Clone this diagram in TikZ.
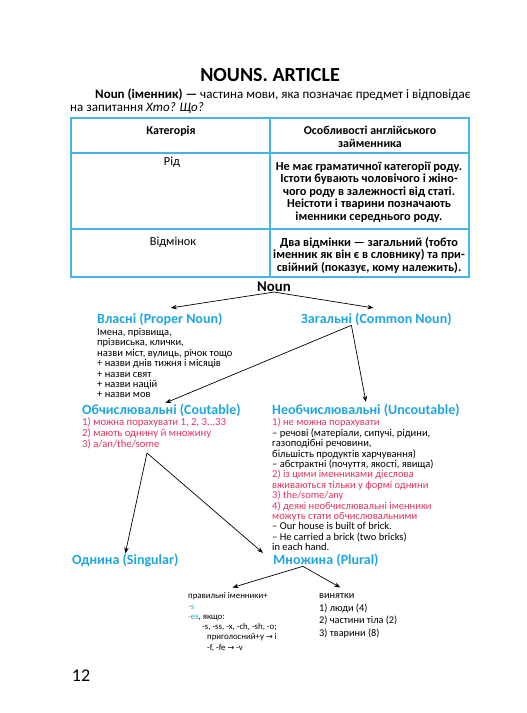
\documentclass[tikz,border=0pt]{standalone}
\usepackage{fontspec}
\setmainfont{Carlito}
\newfontfamily\symfont{DejaVu Sans}
\usetikzlibrary{arrows.meta,positioning}

\definecolor{nblue}{HTML}{1FA6E0}
\definecolor{nred}{HTML}{E4335F}
\definecolor{tline}{HTML}{45B5E5}

\begin{document}
\begin{tikzpicture}[x=1pt,y=-1pt,
  head/.style = {inner sep=0pt, anchor=base west, text=nblue, font=\fontsize{14}{16}\selectfont\bfseries},
  body/.style = {inner sep=0pt, anchor=north west, align=left, font=\fontsize{10.5}{10.4}\selectfont},
  cell/.style = {inner sep=0pt, align=center, font=\fontsize{12.3}{12.8}\selectfont},
  arr/.style = {-{Stealth[length=6pt,width=4.5pt]}, line width=0.7pt}]
\fill[white] (0,0) rectangle (527,713);
\useasboundingbox (0,0) rectangle (527,713);

\node[inner sep=0pt] (title) at (270,75) {\fontsize{20}{22}\selectfont\bfseries NOUNS. ARTICLE};
\node[inner sep=0pt, anchor=base west] (def1) at (95,98) {\fontsize{13}{15}\selectfont\textbf{Noun (іменник) —} частина мови, яка позначає предмет і відповідає};
\node[inner sep=0pt, anchor=base west] (def2) at (70,111) {\fontsize{13}{15}\selectfont на запитання \textit{Хто? Що?}};

% table
\draw[tline, line width=1.3pt] (71,118) rectangle (469,277);
\draw[tline, line width=1.3pt] (270,118) -- (270,277) (71,153) -- (469,153) (71,229) -- (469,229);
\node[cell, font=\fontsize{12}{12.8}\selectfont\bfseries] (cat) at (171,131) {Категорія};
\node[cell, font=\fontsize{12}{12.8}\selectfont\bfseries] (feat) at (370,137) {Особливості англійського\\займенника};
\node[cell] (gender) at (172,162) {Рід};
\node[cell, font=\fontsize{12.3}{12.6}\selectfont\bfseries] (gendertxt) at (369,192) {Не має граматичної категорії роду.\\Істоти бувають чоловічого і жіно-\\чого роду в залежності від статі.\\Неістоти і тварини позначають\\іменники середнього роду.};
\node[cell] (case) at (173,242) {Відмінок};
\node[cell, font=\fontsize{12.3}{12.6}\selectfont\bfseries] (casetxt) at (369,255) {Два відмінки — загальний (тобто\\іменник як він є в словнику) та при-\\свійний (показує, кому належить).};

% tree
\node[inner sep=0pt] (noun) at (274,287) {\fontsize{14.8}{16}\selectfont\bfseries Noun};
\node[head] (proper) at (97,323) {Власні (Proper Noun)};
\node[head] (common) at (301,323) {Загальні (Common Noun)};
\node[body] (propertxt) at (97,328) {Імена, прізвища,\\прізвиська, клички,\\назви міст, вулиць, річок тощо\\+ назви днів тижня і місяців\\+ назви свят\\+ назви націй\\+ назви мов};

\node[head] (countable) at (82,414) {Обчислювальні (Coutable)};
\node[head] (uncountable) at (272,414) {Необчислювальні (Uncoutable)};
\node[body, text=nred, font=\fontsize{10.7}{11}\selectfont] (counttxt) at (82,417.5) {1) можна порахувати 1, 2, 3...33\\2) мають однину й множину\\3) a/an/the/some};
\node[body] (uncounttxt) at (272,418) {\textcolor{nred}{1) не можна порахувати}\\– речові (матеріали, сипучі, рідини,\\газоподібні речовини,\\більшість продуктів харчування)\\– абстрактні (почуття, якості, явища)\\\textcolor{nred}{2) із цими іменниками дієслова}\\\textcolor{nred}{вживаються тільки у формі однини}\\\textcolor{nred}{3) the/some/any}\\\textcolor{nred}{4) деякі необчислювальні іменники}\\\textcolor{nred}{можуть стати обчислювальними}\\– Our house is built of brick.\\– He carried a brick (two bricks)\\in each hand.};
\coordinate (split) at (147,453);

\node[head] (singular) at (72,564) {Однина (Singular)};
\node[head] (plural) at (273,564) {Множина (Plural)};
\node[body, font=\fontsize{8.8}{10.3}\selectfont] (regular) at (188,592.5) {правильні іменники+\\\textcolor{nblue}{-s}\\\textcolor{nblue}{-es}, якщо:\\\hspace*{14pt}-s, -ss, -x, -ch, -sh, -o;\\\hspace*{19pt}приголосний+y {\symfont\fontsize{8}{9}\selectfont →} i\\\hspace*{19pt}-f, -fe {\symfont\fontsize{8}{9}\selectfont →} -v};
\node[body, font=\fontsize{10.3}{12.6}\selectfont] (except) at (319,593.5) {винятки\\1) люди (4)\\2) частини тіла (2)\\3) тварини (8)};

\draw[arr] (noun.south) -- ([xshift=11pt,yshift=4.5pt]proper.north);
\draw[arr] (noun.south) -- ([xshift=-3pt,yshift=4.5pt]common.north);
\draw[arr] ([xshift=-25pt]common.south) -- ([xshift=4pt,yshift=0.5pt]countable.north);
\draw[arr] ([xshift=-25pt]common.south) -- ([yshift=1.5pt]uncountable.north);
\draw[arr] (split) -- (singular.north);
\draw[arr] (split) -- ([xshift=-10pt,yshift=0.5pt]plural.north west);
\draw[arr] ([xshift=-23pt]plural.south) -- ([yshift=5pt]regular.north);
\draw[arr] ([xshift=-23pt]plural.south) -- ([xshift=-18pt,yshift=6pt]except.north);

\node[inner sep=0pt] (page) at (81,676) {\fontsize{18}{20}\selectfont 12};
\end{tikzpicture}
\end{document}
